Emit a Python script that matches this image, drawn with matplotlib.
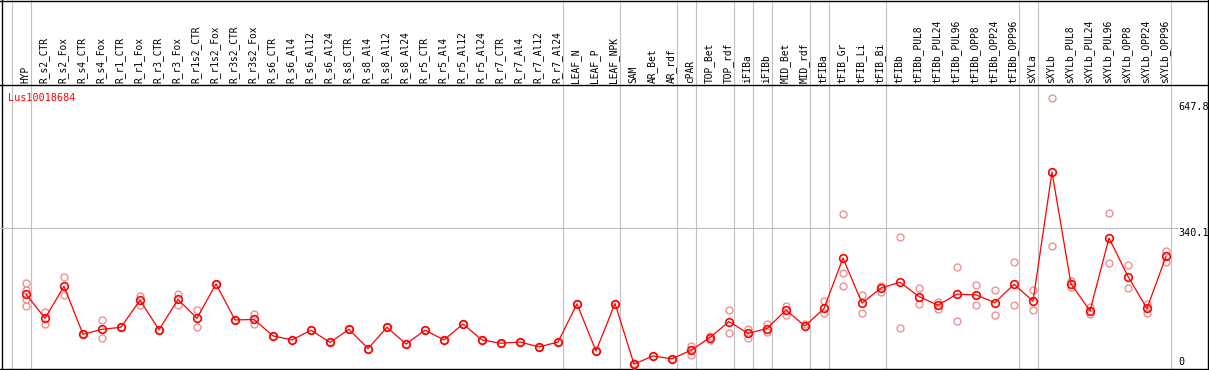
import matplotlib
matplotlib.use("Agg")
import matplotlib.pyplot as plt
import numpy as np

gene = "Lus10018684"

samples = ["HYP", "R_s2_CTR", "R_s2_Fox", "R_s4_CTR", "R_s4_Fox", "R_r1_CTR", "R_r1_Fox",
           "R_r3_CTR", "R_r3_Fox", "R_r1s2_CTR", "R_r1s2_Fox", "R_r3s2_CTR", "R_r3s2_Fox",
           "R_s6_CTR", "R_s6_Al4", "R_s6_Al12", "R_s6_Al24", "R_s8_CTR", "R_s8_Al4",
           "R_s8_Al12", "R_s8_Al24", "R_r5_CTR", "R_r5_Al4", "R_r5_Al12", "R_r5_Al24",
           "R_r7_CTR", "R_r7_Al4", "R_r7_Al12", "R_r7_Al24", "LEAF_N", "LEAF_P", "LEAF_NPK",
           "SAM", "AR_Bet", "AR_rdf", "cPAR", "TOP_Bet", "TOP_rdf", "iFIBa", "iFIBb",
           "MID_Bet", "MID_rdf", "tFIBa", "tFIB_Gr", "tFIB_Li", "tFIB_Bi", "tFIBb",
           "tFIBb_PUL8", "tFIBb_PUL24", "tFIBb_PUL96", "tFIBb_OPP8", "tFIBb_OPP24",
           "tFIBb_OPP96", "sXYLa", "sXYLb", "sXYLb_PUL8", "sXYLb_PUL24", "sXYLb_PUL96",
           "sXYLb_OPP8", "sXYLb_OPP24", "sXYLb_OPP96"]

means = [178, 119, 197, 80, 92, 97, 163, 91, 165, 119, 203, 115, 116,
         76, 66, 90, 60, 92, 45, 97, 56, 90, 66, 105, 66, 58, 61, 49, 61,
         154, 39, 155, 7, 27, 20, 41, 72, 111, 82, 94, 139, 100, 143, 266,
         156, 193, 207, 172, 151, 178, 176, 157, 202, 161, 476, 203, 137,
         315, 221, 143, 270]

reps = [[205, 188, 165, 149], [134, 104], [220, 175], [80], [115, 72], [97], [174, 151],
        [91], [179, 151], [139, 97], [203], [115], [129, 104],
        [76], [66], [90], [60], [92], [45], [97], [56], [90], [66], [105], [66],
        [58], [61], [49], [61], [154], [39], [155], [10, 4], [27], [20], [52, 29],
        [66, 75], [139, 82], [92, 72], [106, 86], [150, 128], [106], [161, 132],
        [373, 229, 197], [176, 133], [199, 184], [317, 95], [194, 155], [158, 142],
        [244, 112], [200, 151], [188, 127], [256, 151], [188, 139], [656, 295],
        [210, 196], [146, 129], [376, 254], [249, 193], [155, 133], [284, 257]]

# group boundaries (vertical grey lines come after these samples)
bounds = [-1, 0, 28, 31, 34, 35, 37, 38, 39, 41, 42, 45, 52, 53, 60]
yticks = [0, 340.1, 647.8]

W, H = 1209, 370
fig = plt.figure(figsize=(W / 100, H / 100), dpi=100)

# background axes in pixel coords for frame lines and header text
bg = fig.add_axes([0, 0, 1, 1])
bg.set_xlim(0, W)
bg.set_ylim(H, 0)
bg.axis("off")

x = np.arange(len(samples))
px0, step = 26, 19
y0, scale = 367, 0.4095
ax = fig.add_axes([0, (H - 369) / H, 1, (369 - 85) / H])
ax.set_xlim(-px0 / step, (W - px0) / step)
ax.set_ylim((y0 - 369) / scale, (y0 - 85) / scale)
ax.axis("off")
ax.patch.set_alpha(0)

grey = "#c0c0c0"
for b in bounds:
    xp = px0 + step * (b + 0.25)
    bg.plot([xp, xp], [0, 369], color=grey, lw=0.8, zorder=1)
ax.plot([-px0 / step, (1178 - px0) / step], [340.1, 340.1], color=grey, lw=0.8, zorder=1)

# frame
for yy in (0.5, 85, 369):
    bg.plot([0, W], [yy, yy], color="black", lw=1)
for xx in (2, 1207.5):
    bg.plot([xx, xx], [0, 369], color="black", lw=1)

for i, r in enumerate(reps):
    ax.plot([i] * len(r), r, "o", ms=5, mfc="none", mec="#f09090", mew=1, zorder=2)
ax.plot(x, means, "-", color="red", lw=0.9, zorder=3)
ax.plot(x, means, "o", ms=5.5, mfc="none", mec="red", mew=1.2, zorder=4)

for i, s in enumerate(samples):
    bg.text(px0 + step * i - 1, 83, s, rotation=90, ha="center", va="bottom",
            family="DejaVu Sans Mono", fontsize=6.9)

bg.text(8, 98, gene, color="red", family="DejaVu Sans Mono", fontsize=7.3,
        ha="left", va="center")

for t in yticks:
    if t == 0:
        bg.text(1178, 362, "0", ha="left", va="center", family="DejaVu Sans Mono", fontsize=7.3)
    else:
        ax.text((1178 - px0) / step, t, f"{t:.1f}", ha="left", va="top",
                family="DejaVu Sans Mono", fontsize=7.3)

fig.savefig("out.png", dpi=100)
